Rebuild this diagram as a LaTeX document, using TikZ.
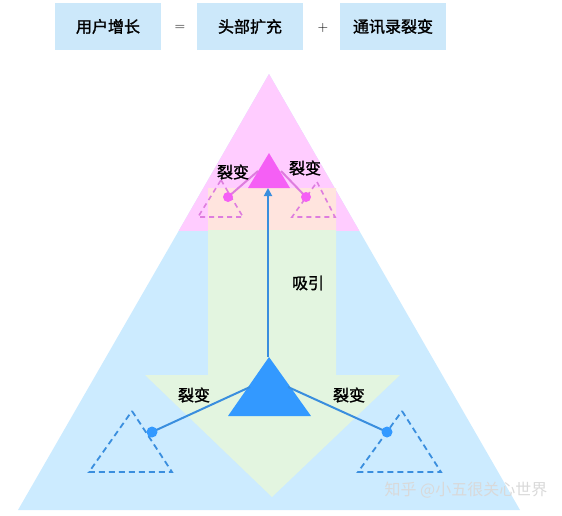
\documentclass[tikz,border=0pt]{standalone}
\usepackage{fontspec}
\newfontfamily\cjk[AutoFakeBold=1.5]{Noto Sans CJK SC}
\newfontfamily\cjkwm{Noto Sans CJK SC}
\usetikzlibrary{arrows.meta}
\definecolor{boxfill}{RGB}{204,232,250}
\definecolor{bigblue}{RGB}{204,235,255}
\definecolor{bigpink}{RGB}{255,204,255}
\definecolor{arrowgreen}{RGB}{227,245,224}
\definecolor{peach}{RGB}{255,228,222}
\definecolor{magtri}{RGB}{245,95,245}
\definecolor{magline}{RGB}{222,125,222}
\definecolor{bluetri}{RGB}{51,153,255}
\definecolor{blueline}{RGB}{58,142,222}
\tikzset{
  headbox/.style={fill=boxfill, minimum width=106pt, minimum height=47pt, inner sep=0pt, font=\cjk\bfseries\fontsize{16}{18}\selectfont},
  optext/.style={font=\fontsize{14}{16}\selectfont},
  lbl/.style={font=\cjk\bfseries\fontsize{16}{18}\selectfont, inner sep=0pt},
  blink/.style={draw=blueline, line width=2pt},
  plink/.style={draw=magline, line width=2pt},
  bdash/.style={draw=blueline, line width=1.8pt, dash pattern=on 6pt off 4pt},
  pdash/.style={draw=magline, line width=1.6pt, dash pattern=on 5pt off 4pt},
}
\begin{document}
\begin{tikzpicture}[x=1pt,y=-1pt]
\useasboundingbox (0,0) rectangle (562,515);
% header
\node[headbox] (g) at (108,26.5) {用户增长};
\node[headbox] (h) at (250,26.5) {头部扩充};
\node[headbox] (c) at (393,26.5) {通讯录裂变};
\node[optext] (eq) at (180,28) {=};
\node[optext] (pl) at (323,28) {+};
% big triangle
\fill[bigblue] (269,74) -- (520,510) -- (18,510) -- cycle;
\begin{scope}
\clip (0,0) rectangle (562,230);
\fill[bigpink] (269,74) -- (520,510) -- (18,510) -- cycle;
\end{scope}
% green arrow
\fill[arrowgreen] (208,188) -- (336,188) -- (336,375) -- (400,375) -- (272,497) -- (145,375) -- (208,375) -- cycle;
\fill[peach] (208,188) rectangle (336,230);
% top group
\coordinate (ta) at (269,153);
\fill[magtri] (ta) -- (290,188) -- (248,188) -- cycle;
\draw[pdash] (221,180) -- (243,217) -- (198,217) -- cycle;
\draw[pdash] (317,182) -- (335,217) -- (292,217) -- cycle;
\coordinate (tl) at (228,197);
\coordinate (tr) at (306,197);
\coordinate (tls) at (258,171);
\coordinate (trs) at (281,171);
\draw[plink] (tl) -- (tls);
\draw[plink] (tr) -- (trs);
\fill[magtri] (tl) circle (5pt);
\fill[magtri] (tr) circle (5pt);
\node[lbl] (tll) at (233,172) {裂变};
\node[lbl] (trl) at (305,168) {裂变};
% bottom group
\coordinate (ba) at (269,357);
\fill[bluetri] (ba) -- (311,416) -- (228,416) -- cycle;
\draw[bdash] (132,411) -- (172,472) -- (89,472) -- cycle;
\draw[bdash] (402,411) -- (441,472) -- (358,472) -- cycle;
\coordinate (bl) at (152,432);
\coordinate (br) at (387,432);
\coordinate (bls) at (250,387);
\coordinate (brs) at (288,387);
\draw[blink] (bl) -- (bls);
\draw[blink] (br) -- (brs);
\fill[bluetri] (bl) circle (5.5pt);
\fill[bluetri] (br) circle (5.5pt);
\node[lbl] (bll) at (194,395) {裂变};
\node[lbl] (brl) at (349,395) {裂变};
% vertical arrow
\coordinate (tb) at (268,188);
\draw[blink, line width=1.8pt, -{Triangle[width=8pt,length=8pt]}] (268,357) -- (tb);
\node[lbl] (xy) at (308,283) {吸引};
% watermark
\node[font=\cjkwm\fontsize{16}{18}\selectfont, text=gray!30, inner sep=0pt] (wm) at (466,490) {知乎 @小五很关心世界};
\end{tikzpicture}
\end{document}
